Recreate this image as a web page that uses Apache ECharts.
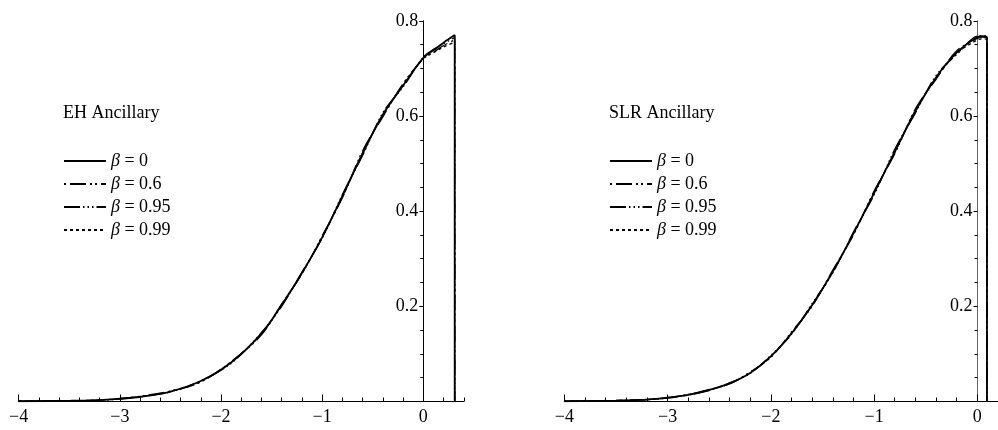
<!DOCTYPE html>
<html>
<head>
<meta charset="utf-8">
<script src="https://cdn.jsdelivr.net/npm/echarts@6/dist/echarts.min.js"></script>
<style>
html,body{margin:0;padding:0;background:#fff;}
#chart{width:998px;height:430px;}
</style>
</head>
<body>
<div id="chart"></div>
<script>
// ---------- data ----------
var panelTitles = ["EH Ancillary", "SLR Ancillary"];
var seriesNames = ["β = 0", "β = 0.6", "β = 0.95", "β = 0.99"];
var xTickLabels = [-4, -3, -2, -1, 0];
var yTickValues = [0.2, 0.4, 0.6, 0.8];

var xEH   = [-4, -3.5, -3.2, -3, -2.8, -2.5, -2.2, -1.9, -1.6, -1.4, -1.2, -1, -0.8, -0.6, -0.4, -0.2, 0, 0.1, 0.2, 0.31, 0.31];
var ehB0   = [0.0005, 0.0015, 0.003, 0.006, 0.010, 0.021, 0.043, 0.082, 0.143, 0.203, 0.270, 0.345, 0.432, 0.521, 0.603, 0.664, 0.722, 0.738, 0.754, 0.770, 0];
var ehB06  = [0.0005, 0.0016, 0.003, 0.006, 0.011, 0.022, 0.041, 0.084, 0.140, 0.205, 0.268, 0.348, 0.428, 0.527, 0.598, 0.668, 0.720, 0.734, 0.748, 0.760, 0];
var ehB095 = [0.0005, 0.0014, 0.003, 0.005, 0.010, 0.020, 0.044, 0.080, 0.145, 0.200, 0.272, 0.343, 0.435, 0.517, 0.607, 0.661, 0.724, 0.740, 0.752, 0.765, 0];
var ehB099 = [0.0005, 0.0015, 0.003, 0.006, 0.010, 0.021, 0.042, 0.083, 0.142, 0.204, 0.269, 0.346, 0.430, 0.523, 0.601, 0.666, 0.721, 0.733, 0.745, 0.755, 0];

var xSLR   = [-4, -3.5, -3.2, -3, -2.8, -2.6, -2.4, -2.2, -2, -1.8, -1.6, -1.4, -1.2, -1, -0.8, -0.6, -0.4, -0.2, 0, 0.05, 0.093, 0.093];
var slrB0   = [0.0005, 0.002, 0.004, 0.008, 0.014, 0.024, 0.038, 0.060, 0.095, 0.143, 0.203, 0.273, 0.353, 0.438, 0.525, 0.610, 0.681, 0.733, 0.766, 0.768, 0.765, 0];
var slrB06  = [0.0005, 0.002, 0.004, 0.008, 0.015, 0.025, 0.037, 0.062, 0.093, 0.146, 0.200, 0.276, 0.350, 0.442, 0.520, 0.615, 0.677, 0.737, 0.763, 0.766, 0.764, 0];
var slrB095 = [0.0005, 0.002, 0.004, 0.007, 0.014, 0.023, 0.039, 0.059, 0.097, 0.141, 0.206, 0.270, 0.356, 0.434, 0.530, 0.606, 0.685, 0.729, 0.768, 0.769, 0.766, 0];
var slrB099 = [0.0005, 0.002, 0.004, 0.008, 0.014, 0.024, 0.038, 0.061, 0.094, 0.144, 0.202, 0.272, 0.352, 0.440, 0.523, 0.612, 0.679, 0.731, 0.760, 0.762, 0.760, 0];

// ---------- styles ----------
var FONT = '"Liberation Serif", "Times New Roman", serif';
var lineTypes = ['solid', [16, 4, 2, 3, 2, 4], [16, 3, 1.5, 3, 1.5, 3, 1.5, 3], [3, 3]];
var lineWidths = [1.8, 1.3, 1.3, 1.3];
var dashOffsets = [0, 25, 0, 0];

function pairs(xs, ys) { return xs.map(function (x, i) { return [x, ys[i]]; }); }
function fmtMinus(v) { return String(v).replace('-', '\u2212'); }

var grids = [
  { left: 18.7, top: 20.8, width: 445.1, height: 380.7 },
  { left: 564.3, top: 20.8, width: 433.9, height: 380.7 }
];
var xMin = -4;
var xMaxes = [0.4, 0.2];

var xAxes = [], yAxes = [];
grids.forEach(function (g, gi) {
  var zeroOffset = g.width * (0 - xMin) / (xMaxes[gi] - xMin);
  xAxes.push({
    type: 'value', gridIndex: gi, position: 'bottom', min: xMin, max: xMaxes[gi], interval: 0.2,
    axisLine: { show: true, onZero: false, lineStyle: { color: '#000', width: 1 } },
    axisTick: { show: true, inside: true, length: 4, lineStyle: { color: '#000' } },
    axisLabel: { show: false }, splitLine: { show: false }
  });
  xAxes.push({
    type: 'value', gridIndex: gi, position: 'bottom', offset: 0, min: xMin, max: xMaxes[gi], interval: 1,
    axisLine: { show: false, onZero: false },
    axisTick: { show: true, inside: true, length: 7, customValues: xTickLabels, lineStyle: { color: '#000' } },
    axisLabel: { show: true, customValues: xTickLabels, margin: 7, color: '#000', fontFamily: FONT, fontSize: 18, formatter: fmtMinus },
    splitLine: { show: false }
  });
  yAxes.push({
    type: 'value', gridIndex: gi, position: 'left', offset: -zeroOffset, min: 0, max: 0.8, interval: 0.2,
    axisLine: { show: true, onZero: false, lineStyle: { color: gi === 1 ? '#666' : '#000', width: 1 } },
    axisTick: { show: true, inside: false, length: 4, customValues: yTickValues, lineStyle: { color: '#000' } },
    minorTick: { show: true, splitNumber: 4, length: 3, lineStyle: { color: '#000' } },
    axisLabel: { show: true, customValues: yTickValues, margin: 5, color: '#000', fontFamily: FONT, fontSize: 18 },
    splitLine: { show: false }, minorSplitLine: { show: false }
  });
});

var panelData = [
  { x: xEH, ys: [ehB0, ehB06, ehB095, ehB099] },
  { x: xSLR, ys: [slrB0, slrB06, slrB095, slrB099] }
];
var series = [];
panelData.forEach(function (p, gi) {
  p.ys.forEach(function (ys, si) {
    series.push({
      type: 'line', name: seriesNames[si], xAxisIndex: gi * 2, yAxisIndex: gi,
      data: pairs(p.x, ys), symbol: 'none', showSymbol: false, animation: false, smooth: 0.35,
      lineStyle: { color: '#000', width: lineWidths[si], type: lineTypes[si], dashOffset: dashOffsets[si] },
      itemStyle: { color: '#000' }, z: 4 - si
    });
  });
});

var legendLefts = [63, 609];
var legends = legendLefts.map(function (l) {
  return {
    left: l, top: 152, orient: 'vertical', selectedMode: false, padding: 0,
    itemWidth: 42, itemHeight: 12, itemGap: 5,
    itemStyle: { opacity: 0, borderWidth: 0 },
    data: seriesNames,
    formatter: function (name) { return '{i|β}' + name.slice(1); },
    textStyle: {
      color: '#000', fontFamily: FONT, fontSize: 18, lineHeight: 18,
      rich: { i: { fontStyle: 'italic', fontFamily: FONT, fontSize: 18, lineHeight: 18, color: '#000' } }
    }
  };
});

var titleLefts = [63, 609];
var graphics = panelTitles.map(function (t, i) {
  return {
    type: 'text', left: titleLefts[i], top: 104,
    style: { text: t, font: '18px ' + FONT, fill: '#000' }
  };
});

var chart = echarts.init(document.getElementById('chart'), null, { renderer: 'canvas' });
chart.setOption({
  backgroundColor: '#fff',
  animation: false,
  grid: grids,
  xAxis: xAxes,
  yAxis: yAxes,
  legend: legends,
  graphic: graphics,
  series: series
});
</script>
</body>
</html>
